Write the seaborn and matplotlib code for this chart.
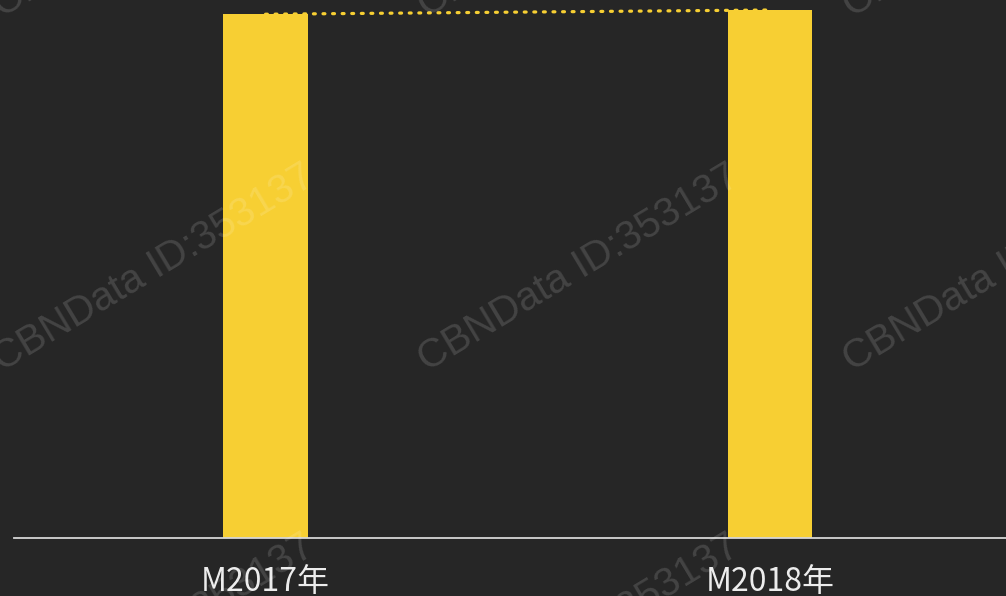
import matplotlib
matplotlib.use("Agg")
import matplotlib.pyplot as plt
import seaborn as sns
import pandas as pd

# data
years = ['M2017年', 'M2018年']
values = [99.2, 100.0]

bg = '#262626'
bar_color = '#F7CF33'

sns.set_theme(style='dark')
plt.rcParams['font.family'] = ['Noto Sans CJK SC', 'DejaVu Sans']

df = pd.DataFrame({'year': years, 'value': values})

fig = plt.figure(figsize=(10.06, 5.96), dpi=100, facecolor=bg)
ax = fig.add_axes([14 / 1006, 58 / 596, 992 / 1006, 538 / 596])
ax.set_facecolor(bg)

sns.barplot(data=df, x='year', y='value', color=bar_color, width=0.168,
            saturation=1, linewidth=0, ax=ax, zorder=2)

# dotted connector between bar tops
ax.plot([0, 1], values, linestyle=(0, (0.6, 2.4)), lw=2.3, color=bar_color,
        dash_capstyle='round', zorder=3)

ax.set_xlim(-0.4985, 1.4678)
ax.set_ylim(0, values[1] * 538 / 528)

for s in ['top', 'left', 'right']:
    ax.spines[s].set_visible(False)
ax.spines['bottom'].set_color('#d6d6d6')
ax.spines['bottom'].set_linewidth(1.3)
ax.set_yticks([])
ax.set_xlabel('')
ax.set_ylabel('')
ax.grid(False)
ax.tick_params(axis='x', length=0, pad=20, labelsize=23, labelcolor='#ececec')

# watermark
for y0 in [18, 372, 742]:
    for x0 in [2, 427, 852]:
        fig.text(x0 / 1006, 1 - y0 / 596, 'CBNData ID:353137', rotation=31,
                 rotation_mode='anchor', ha='left', va='baseline',
                 fontsize=29, color='white', alpha=0.14,
                 family=['Liberation Sans', 'DejaVu Sans'])

fig.savefig('out.png', dpi=100, facecolor=bg)
